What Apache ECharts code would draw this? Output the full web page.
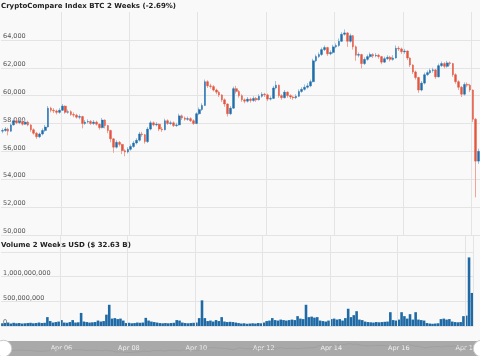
<!DOCTYPE html>
<html><head><meta charset="utf-8">
<script src="https://cdn.jsdelivr.net/npm/echarts@6/dist/echarts.min.js"></script>
<style>html,body{margin:0;padding:0;background:#f9f9f9}#c{width:480px;height:356px}</style>
</head><body><div id="c"></div>
<script>
// 2-hour candles starting Apr 04 06:00
const startUTC = Date.UTC(2021, 3, 4, 6);
const stepMs = 2 * 3600 * 1000;
const monthNames = ['Jan','Feb','Mar','Apr','May','Jun','Jul','Aug','Sep','Oct','Nov','Dec'];

const opens = [57450,57500,57600,57450,57900,58200,58050,58150,57950,58100,57900,57550,57300,57050,57250,57500,
57750,59100,58950,58900,58800,58950,59250,58800,58850,58650,58600,58450,58500,58000,58100,58150,58000,58100,57950,57700,
58250,57850,57500,56900,56300,56650,56500,56050,55950,56150,56350,56600,56800,57250,57200,56700,57600,58050,57900,57950,
57600,57550,58200,58000,58050,57850,57900,58550,58400,58300,58350,58200,58000,58700,59000,59300,61000,60700,60650,60400,
60250,60050,59700,59400,58700,59100,60500,60300,60000,59700,59600,59750,59650,59800,59700,59950,60100,60050,59750,59800,
60550,60750,60000,59850,60250,60000,59900,59850,59950,60300,60450,60600,60700,61000,62500,62800,62950,63300,63450,63000,
63100,63500,63600,63900,64400,64500,63900,64300,63500,62900,62950,62300,62600,62800,62950,62850,62900,62800,62400,62650,
62750,62600,62700,63400,63350,63150,63200,62700,62200,61700,61300,60400,60900,61500,61650,61800,61850,61350,62150,62300,
62100,62350,62300,61500,61000,60600,60100,60800,60750,60400,58300,55300];
const closes = [57500,57600,57450,57900,58200,58050,58150,57950,58100,57900,57550,57300,57050,57250,57500,57750,
59100,58950,58900,58800,58950,59250,58800,58850,58650,58600,58450,58500,58000,58100,58150,58000,58100,57950,57700,58250,
57850,57500,56900,56300,56650,56500,56050,55950,56150,56350,56600,56800,57250,57200,56700,57600,58050,57900,57950,57600,
57550,58200,58000,58050,57850,57900,58550,58400,58300,58350,58200,58000,58700,59000,59300,61000,60700,60650,60400,60250,
60050,59700,59400,58700,59100,60500,60300,60000,59700,59600,59750,59650,59800,59700,59950,60100,60050,59750,59800,60550,
60750,60000,59850,60250,60000,59900,59850,59950,60300,60450,60600,60700,61000,62500,62800,62950,63300,63450,63000,63100,
63500,63600,63900,64400,64500,63900,64300,63500,62900,62950,62300,62600,62800,62950,62850,62900,62800,62400,62650,62750,
62600,62700,63400,63350,63150,63200,62700,62200,61700,61300,60400,60900,61500,61650,61800,61850,61350,62150,62300,62100,
62350,62300,61500,61000,60600,60100,60800,60750,60400,58300,55300,56000];
const highs = [57650,57750,57700,58000,58350,58300,58300,58250,58250,58200,57950,57650,57400,57350,57650,57900,
59250,59200,59100,59000,59100,59400,59300,59000,58950,58800,58700,58650,58550,58250,58300,58250,58250,58200,58000,58400,
58300,57900,57550,56950,56800,56750,56550,56150,56300,56500,56750,56950,57400,57400,57250,57750,58200,58150,58100,58000,
57750,58350,58300,58200,58150,58050,58700,58650,58500,58500,58450,58300,58800,59150,59450,61150,61100,60850,60750,60500,
60350,60100,59800,59450,59250,60650,60700,60400,60100,59800,59900,59850,59950,59900,60100,60250,60200,60150,59950,60700,
61050,60800,60100,60400,60300,60100,60000,60100,60450,60600,60800,60900,61150,62650,62950,63100,63450,63600,63500,63250,
63650,63750,64100,64550,64750,64550,64450,64350,63600,63100,63000,62750,62950,63100,63050,63050,63000,62850,62800,62900,
62850,62900,63600,63550,63450,63350,63250,62750,62250,61800,61350,61050,61650,61800,61950,62000,61900,62300,62450,62400,
62500,62450,62350,61600,61100,60700,60950,60950,60850,60450,58400,56200];
const lows = [57300,57400,57150,57400,57850,57950,57950,57850,57900,57800,57400,57200,56900,56950,57150,57400,
57700,58800,58750,58650,58700,58900,58700,58700,58550,58450,58350,58300,57650,57900,58000,57900,57900,57850,57550,57650,
57650,57300,56650,55900,56200,56350,55800,55650,55850,56050,56250,56500,56700,57050,56550,56600,57500,57800,57800,57450,
57400,57500,57900,57900,57750,57750,57850,58250,58200,58200,58100,57900,57950,58600,58900,59250,60550,60500,60300,60100,
59900,59550,59200,58500,58600,59050,60150,59850,59550,59450,59500,59500,59550,59550,59650,59850,59900,59600,59650,59750,
60450,59850,59700,59800,59850,59750,59700,59750,59900,60200,60350,60500,60600,60950,62400,62700,62850,63200,62850,62900,
63000,63400,63500,63850,64300,63500,63800,63300,62500,62750,61950,62200,62500,62700,62700,62750,62650,62250,62350,62550,
62450,62500,62650,63200,63000,63000,62550,62050,61550,61150,60200,60300,60800,61400,61550,61650,61200,61300,62050,61950,
62000,62150,61350,60850,60400,59900,60000,60600,60250,58100,52700,55100];
// volume per candle, millions of USD
const volumesM = [55,60,70,50,65,55,60,50,55,60,65,55,60,70,60,65,
180,100,70,80,90,120,70,65,80,120,70,75,265,90,80,70,75,80,110,90,
100,230,430,150,160,140,150,110,60,65,55,60,70,65,70,165,110,90,80,70,
60,55,60,55,60,65,120,110,70,60,55,60,65,70,160,520,160,100,110,90,
120,100,180,90,80,85,80,70,60,50,55,45,50,55,50,60,55,70,100,110,
160,120,110,130,120,110,120,130,120,200,150,140,430,180,190,170,180,110,100,90,
110,140,150,130,140,110,160,350,180,220,300,130,120,90,80,75,70,80,75,80,
85,90,280,120,110,130,280,200,150,240,130,280,130,120,110,60,50,45,50,55,
140,150,130,140,90,80,75,80,200,210,1390,670];
const volumes = volumesM.map(v => v * 1e6);

const priceMin = 50000, priceMax = 66000, priceStep = 2000;
const volMax = 1.824e9, volStep = 5e8, volLabelMax = 1e9;
const titleText = 'CryptoCompare Index BTC 2 Weeks (-2.69%)';
const volTitleText = 'Volume 2 Weeks USD ($ 32.63 B)';

const categories = closes.map((_, i) => {
  const d = new Date(startUTC + i * stepMs);
  const dd = String(d.getUTCDate()).padStart(2, '0');
  const hh = String(d.getUTCHours()).padStart(2, '0');
  return monthNames[d.getUTCMonth()] + ' ' + dd + ' ' + hh;
});
const isDayMark = (idx, val) => val.slice(7) === '00' && (+val.slice(4, 6)) % 2 === 0;

const UP = '#1f6dab', DOWN = '#e2553f', UPW = '#9dc1de', DOWNW = '#f1a597';
const FONT = 'DejaVu Sans';
const fmt = v => v.toLocaleString('en-US');

const wickData = closes.map((c, i) => [opens[i], c, lows[i], highs[i]]);
const bodyData = closes.map((c, i) => [opens[i], c, Math.min(opens[i], c), Math.max(opens[i], c)]);

const chart = echarts.init(document.getElementById('c'), null, {renderer: 'canvas'});
chart.setOption({
  backgroundColor: '#f9f9f9',
  animation: false,
  title: [
    {text: titleText, left: 1, top: 3, padding: 0,
     textStyle: {fontFamily: FONT, fontSize: 7, fontWeight: 'bold', color: '#222'}},
    {text: volTitleText, left: 1, top: 242, padding: 0,
     textStyle: {fontFamily: FONT, fontSize: 7, fontWeight: 'bold', color: '#222'}}
  ],
  graphic: [
    {type: 'rect', left: 0, top: 341, shape: {width: 480, height: 15}, style: {fill: '#a9a9a9'}, z: 1}
  ],
  grid: [
    {left: 0, right: 0, top: 12, height: 223},
    {left: 0, right: 0, top: 236, height: 90}
  ],
  xAxis: [
    {type: 'category', gridIndex: 0, data: categories, boundaryGap: true,
     axisLine: {show: false}, axisTick: {show: false}, axisLabel: {show: false},
     splitLine: {show: true, interval: isDayMark, lineStyle: {color: '#e4e4e4', width: 1}}},
    {type: 'category', gridIndex: 1, data: categories, boundaryGap: true, z: 10,
     axisLine: {show: false}, axisTick: {show: false},
     axisLabel: {show: true, interval: isDayMark, margin: 19, fontFamily: FONT, fontSize: 6.5, color: '#eeeeee',
       formatter: v => v.slice(0, 6)},
     splitLine: {show: true, interval: isDayMark, lineStyle: {color: '#e4e4e4', width: 1}}}
  ],
  yAxis: [
    {type: 'value', gridIndex: 0, min: priceMin, max: priceMax, interval: priceStep, position: 'left',
     axisLine: {show: false}, axisTick: {show: false},
     axisLabel: {inside: true, margin: 2, verticalAlign: 'bottom', showMaxLabel: false,
       fontFamily: FONT, fontSize: 6.5, color: '#555', formatter: fmt},
     splitLine: {show: true, showMaxLine: false, lineStyle: {color: '#e4e4e4'}}},
    {type: 'value', gridIndex: 1, min: 0, max: volMax, interval: volStep, position: 'left',
     axisLine: {show: false}, axisTick: {show: false},
     axisLabel: {inside: true, margin: 2, verticalAlign: 'bottom', showMaxLabel: false,
       fontFamily: FONT, fontSize: 6.5, color: '#555', formatter: v => v > volLabelMax ? '' : fmt(v)},
     splitLine: {show: true, showMaxLine: false, lineStyle: {color: '#e4e4e4'}}}
  ],
  dataZoom: [{
    type: 'slider', xAxisIndex: [0, 1], start: 0, end: 100, left: 0, right: 0, top: 341, height: 15, z: 20,
    showDetail: false, moveHandleSize: 0, brushSelect: false, zoomLock: true,
    backgroundColor: 'rgba(0,0,0,0)', borderColor: 'transparent', fillerColor: 'rgba(0,0,0,0)',
    handleIcon: 'circle', handleSize: '110%',
    handleStyle: {color: '#ffffff', borderColor: '#c8c8c8', borderWidth: 1},
    dataBackground: {lineStyle: {color: 'rgba(150,150,150,0.55)', width: 0.8}, areaStyle: {color: 'rgba(0,0,0,0)'}},
    selectedDataBackground: {lineStyle: {color: 'rgba(150,150,150,0.55)', width: 0.8}, areaStyle: {color: 'rgba(0,0,0,0)'}}
  }],
  series: [
    {name: 'wick', type: 'candlestick', xAxisIndex: 0, yAxisIndex: 0, data: wickData, barWidth: 1,
     itemStyle: {color: UPW, color0: DOWNW, borderColor: UPW, borderColor0: DOWNW, borderWidth: 1}},
    {name: 'body', type: 'candlestick', xAxisIndex: 0, yAxisIndex: 0, data: bodyData, barWidth: 2.2,
     itemStyle: {color: UP, color0: DOWN, borderColor: UP, borderColor0: DOWN, borderWidth: 0.4}},
    {name: 'volume', type: 'bar', xAxisIndex: 1, yAxisIndex: 1, data: volumes, barCategoryGap: '8%',
     itemStyle: {color: '#1f6aa5'}}
  ]
});
</script>
</body></html>
